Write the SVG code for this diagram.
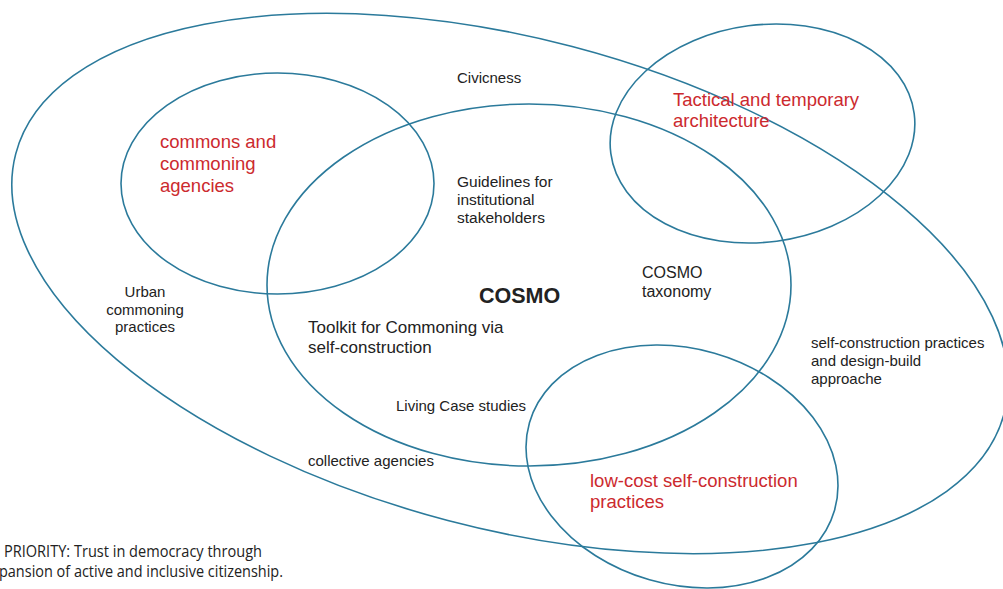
<svg xmlns="http://www.w3.org/2000/svg" width="1003" height="589" viewBox="0 0 1003 589">
<style>
.ring{fill:none;stroke:#2b7a9b;stroke-width:1.6}
.t{font-family:"Liberation Sans",Arial,sans-serif;fill:#222}
.r{font-family:"Liberation Sans",Arial,sans-serif;fill:#cc2a2e;font-size:18.5px}
.s{font-size:15px}
.note{font-family:"Open Sans","Noto Sans",sans-serif;fill:#222;font-size:16px}
</style>
<rect width="1003" height="589" fill="#fff"/>
<g id="connectors">
  <ellipse id="civicness-ring" class="ring" cx="510" cy="283.5" rx="511" ry="245" transform="rotate(14.7 510 283.5)"/>
</g>
<g id="civicness">
  <text class="t s" x="457" y="83">Civicness</text>
</g>
<g id="commons">
  <ellipse class="ring" cx="277.5" cy="183.5" rx="156.5" ry="110.5"/>
  <text class="r" x="160" y="148">commons and</text>
  <text class="r" x="160" y="170">commoning</text>
  <text class="r" x="160" y="192">agencies</text>
</g>
<g id="cosmo">
  <ellipse class="ring" cx="529" cy="285" rx="262" ry="181"/>
  <text class="t" x="479" y="303" font-size="21.5" font-weight="bold">COSMO</text>
</g>
<g id="tactical">
  <ellipse class="ring" cx="762.5" cy="133.5" rx="153" ry="108.6" transform="rotate(-7.5 762.5 133.5)"/>
  <text class="r" x="673" y="106">Tactical and temporary</text>
  <text class="r" x="673" y="127">architecture</text>
</g>
<g id="lowcost">
  <ellipse class="ring" cx="682" cy="466.5" rx="158.7" ry="117.9" transform="rotate(16 682 466.5)"/>
  <text class="r" x="590" y="487">low-cost self-construction</text>
  <text class="r" x="590" y="508">practices</text>
</g>
<g id="guidelines">
  <text class="t" x="457" y="187" font-size="15.5">Guidelines for</text>
  <text class="t" x="457" y="205" font-size="15.5">institutional</text>
  <text class="t" x="457" y="223" font-size="15.5">stakeholders</text>
</g>
<g id="taxonomy">
  <text class="t" x="642" y="278" font-size="16">COSMO</text>
  <text class="t" x="642" y="297" font-size="16">taxonomy</text>
</g>
<g id="urban">
  <text class="t s" x="145" y="297" text-anchor="middle">Urban</text>
  <text class="t s" x="145" y="315" text-anchor="middle">commoning</text>
  <text class="t s" x="145" y="332" text-anchor="middle">practices</text>
</g>
<g id="toolkit">
  <text class="t" x="308" y="333" font-size="17">Toolkit for Commoning via</text>
  <text class="t" x="308" y="353" font-size="17">self-construction</text>
</g>
<g id="living">
  <text class="t s" x="396" y="411">Living Case studies</text>
</g>
<g id="collective">
  <text class="t s" x="308" y="466">collective agencies</text>
</g>
<g id="selfconstruction">
  <text class="t s" x="811" y="348">self-construction practices</text>
  <text class="t s" x="811" y="366">and design-build</text>
  <text class="t s" x="811" y="384">approache</text>
</g>
<g id="priority">
  <text class="note" x="4" y="557" textLength="258" lengthAdjust="spacingAndGlyphs">PRIORITY: Trust in democracy through</text>
  <text class="note" x="-1" y="577" textLength="284" lengthAdjust="spacingAndGlyphs">pansion of active and inclusive citizenship.</text>
</g>
</svg>
